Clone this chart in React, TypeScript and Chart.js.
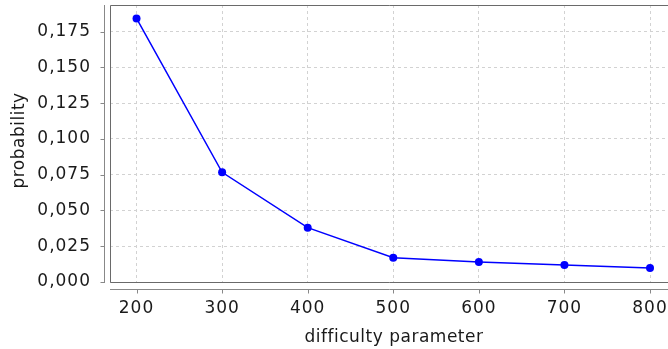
import React, { useEffect, useRef } from "react";
import { Chart, registerables } from "chart.js";

Chart.register(...registerables);

const difficulty = [200, 300, 400, 500, 600, 700, 800];
const probability = [0.1843, 0.0767, 0.038, 0.017, 0.014, 0.0119, 0.0098];
const xTicks = [200, 300, 400, 500, 600, 700, 800];
const yTicks = [0, 0.025, 0.05, 0.075, 0.1, 0.125, 0.15, 0.175];
const xTitle = "difficulty parameter";
const yTitle = "probability";

const FONT = "'DejaVu Sans', sans-serif";
const TEXT = "#1a1a1a";

const axesPlugin = {
  id: "jfreeAxes",
  beforeDraw(chart: any) {
    (chart.ctx as any).letterSpacing = "1px";
  },
  beforeDatasetsDraw(chart: any) {
    const { ctx, chartArea } = chart;
    const { left, right, top, bottom } = chartArea;
    const xs = chart.scales.x;
    const ys = chart.scales.y;
    ctx.save();
    ctx.strokeStyle = "#6a6a6a";
    ctx.lineWidth = 1;
    ctx.beginPath();
    ctx.moveTo(right + 2, top + 0.5);
    ctx.lineTo(left + 0.5, top + 0.5);
    ctx.lineTo(left + 0.5, bottom + 0.5);
    ctx.lineTo(right + 2, bottom + 0.5);
    ctx.stroke();
    ctx.strokeStyle = "#888888";
    ctx.beginPath();
    const ax = left - 6 + 0.5;
    ctx.moveTo(ax, top);
    ctx.lineTo(ax, bottom + 1);
    for (const t of yTicks) {
      const py = Math.round(ys.getPixelForValue(t)) + 0.5;
      ctx.moveTo(ax - 4, py);
      ctx.lineTo(ax, py);
    }
    const ay = bottom + 7 + 0.5;
    ctx.moveTo(left, ay);
    ctx.lineTo(right + 2, ay);
    for (const t of xTicks) {
      const px = Math.round(xs.getPixelForValue(t)) + 0.5;
      ctx.moveTo(px, ay);
      ctx.lineTo(px, ay + 4);
    }
    ctx.stroke();
    ctx.restore();
  },
  afterDraw(chart: any) {
    const { ctx, chartArea } = chart;
    const { left, right, top, bottom } = chartArea;
    ctx.save();
    (ctx as any).letterSpacing = "0.5px";
    ctx.fillStyle = TEXT;
    ctx.font = `17px ${FONT}`;
    ctx.textAlign = "center";
    ctx.textBaseline = "alphabetic";
    ctx.fillText(xTitle, (left + right) / 2 + 5, chart.height - 7);
    ctx.translate(24, (top + bottom) / 2 - 3);
    ctx.rotate(-Math.PI / 2);
    ctx.fillText(yTitle, 0, 0);
    ctx.restore();
  },
};

const zeroPad = (s: any) => {
  s.paddingTop = 0;
  s.paddingBottom = 0;
  s.paddingLeft = 0;
  s.paddingRight = 0;
};

export default function App() {
  const ref = useRef<HTMLCanvasElement | null>(null);
  useEffect(() => {
    document.body.style.margin = "0";
    const canvas = ref.current!;
    const chart = new Chart(canvas, {
      type: "line",
      data: {
        datasets: [
          {
            data: difficulty.map((d, i) => ({ x: d, y: probability[i] })),
            borderColor: "#0000ff",
            backgroundColor: "#0000ff",
            borderWidth: 1.5,
            pointRadius: 4,
            pointBorderWidth: 0,
            pointBackgroundColor: "#0000ff",
            tension: 0,
            fill: false,
            clip: false,
          },
        ],
      },
      options: {
        animation: false,
        responsive: false,
        maintainAspectRatio: false,
        layout: { autoPadding: false, padding: { top: 5, right: 0, left: 0, bottom: 0 } },
        plugins: {
          legend: { display: false },
          tooltip: { enabled: false },
        },
        scales: {
          x: {
            type: "linear",
            min: 169,
            max: 821,
            afterBuildTicks: (s: any) => {
              s.ticks = xTicks.map((v) => ({ value: v }));
            },
            afterFit: (s: any) => {
              s.height = 67;
              zeroPad(s);
            },
            grid: {
              color: "#d2d2d2",
              lineWidth: 1,
              drawTicks: false,
            },
            border: { display: false, dash: [3, 3] },
            ticks: {
              padding: 16,
              color: TEXT,
              font: { family: FONT, size: 17 },
              callback: (v: any) => String(v),
              maxRotation: 0,
              autoSkip: false,
            },
            title: { display: false },
          },
          y: {
            type: "linear",
            min: 0,
            max: 0.1937,
            afterBuildTicks: (s: any) => {
              s.ticks = yTicks.map((v) => ({ value: v }));
            },
            afterFit: (s: any) => {
              s.width = 110;
              zeroPad(s);
            },
            grid: {
              color: "#d2d2d2",
              lineWidth: 1,
              drawTicks: false,
            },
            border: { display: false, dash: [3, 3] },
            ticks: {
              padding: 19,
              color: TEXT,
              font: { family: FONT, size: 17 },
              autoSkip: false,
              callback: (v: any) => Number(v).toFixed(3).replace(".", ","),
            },
            title: { display: false },
          },
        },
      },
      plugins: [axesPlugin],
    } as any);
    return () => chart.destroy();
  }, []);
  return (
    <canvas
      ref={ref}
      width={668}
      height={349}
      style={{ display: "block", width: 668, height: 349 }}
    />
  );
}
